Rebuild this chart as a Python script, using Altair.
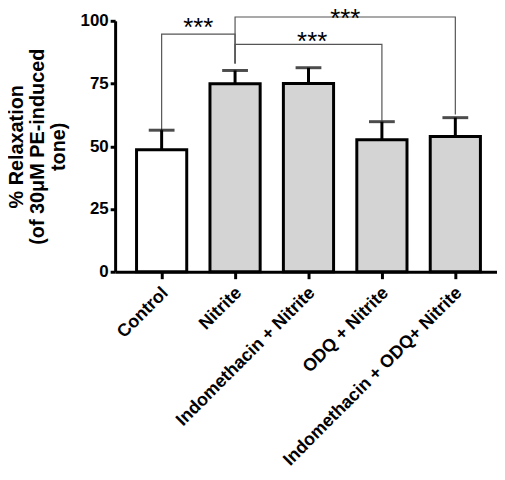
import json
import altair as alt
import pandas as pd

categories = ["Control", "Nitrite", "Indomethacin + Nitrite", "ODQ + Nitrite", "Indomethacin + ODQ+ Nitrite"]
means = [48.6, 74.9, 75.0, 52.6, 53.9]
sems = [7.8, 5.3, 6.3, 7.2, 7.5]
fills = ["#ffffff", "#d4d4d4", "#d4d4d4", "#d4d4d4", "#d4d4d4"]
y_ticks = [0, 25, 50, 75, 100]

# significance brackets (polyline points, x = category index)
bracket_id = [1, 1, 1, 1, 2, 2, 2, 2, 3, 3, 3, 3]
bracket_x = [0, 0, 1, 1, 1, 1, 3, 3, 1, 1, 4, 4]
bracket_y = [56.4, 94.7, 94.7, 83.0, 83.0, 90.6, 90.6, 60.3, 83.0, 101.5, 101.5, 62.7]
bracket_order = [0, 1, 2, 3, 0, 1, 2, 3, 0, 1, 2, 3]

star_x = [0.5, 2.05, 2.5]
star_y = [93.9, 88.5, 97.6]
star_text = ["***", "***", "***"]

FONT = "Liberation Sans"

bars = pd.DataFrame({
    "idx": list(range(len(categories))),
    "category": categories,
    "mean": means,
    "upper": [m + s for m, s in zip(means, sems)],
    "fill": fills,
})
brackets = pd.DataFrame({"bid": bracket_id, "bx": bracket_x, "by": bracket_y, "bo": bracket_order})
stars = pd.DataFrame({"sx": star_x, "sy": star_y, "t": star_text})

x_scale = alt.Scale(domain=[-0.566, 4.5], nice=False, zero=False)
y_scale = alt.Scale(domain=[0, 100], nice=False)

x_axis = alt.Axis(
    values=list(range(len(categories))),
    labelExpr=f"{json.dumps(categories)}[datum.value]",
    labelAngle=-45, labelFontSize=18, labelFontWeight="bold", labelFont=FONT,
    labelColor="black", labelPadding=5, labelOffset=-3, labelOverlap=False, labelLimit=0,
    tickSize=7, tickWidth=3, tickColor="black",
    domainWidth=3, domainColor="black", grid=False, title=None,
)
y_axis = alt.Axis(
    values=y_ticks,
    labelFontSize=17, labelFontWeight="bold", labelFont=FONT, labelColor="black", labelPadding=2,
    tickSize=5, tickWidth=3, tickColor="black",
    domainWidth=3, domainColor="black", grid=False,
    title=["% Relaxation", "(of 30\u03bcM PE-induced", "tone)"],
    titleFontSize=20, titleFontWeight="bold", titleFont=FONT, titleColor="black",
    titleLineHeight=21, titlePadding=12,
)

bar_layer = alt.Chart(bars).mark_bar(size=50.6, stroke="black", strokeWidth=3).encode(
    x=alt.X("idx:Q", scale=x_scale, axis=x_axis),
    y=alt.Y("mean:Q", scale=y_scale, axis=y_axis),
    fill=alt.Fill("fill:N", scale=None),
)
err_layer = alt.Chart(bars).mark_rule(color="black", strokeWidth=3).encode(
    x="idx:Q", y="mean:Q", y2="upper:Q",
)
cap_layer = alt.Chart(bars).mark_tick(color="black", orient="horizontal", size=26, thickness=3).encode(
    x="idx:Q", y="upper:Q",
)
bracket_layer = alt.Chart(brackets).mark_line(color="#555555", strokeWidth=1.2).encode(
    x="bx:Q", y="by:Q", detail="bid:N", order="bo:Q",
)
star_layer = alt.Chart(stars).mark_text(fontSize=26, font=FONT, baseline="alphabetic", color="black").encode(
    x="sx:Q", y="sy:Q", text="t:N",
)

chart = alt.layer(bracket_layer, err_layer, cap_layer, bar_layer, star_layer).properties(
    width=385, height=253,
    autosize=alt.AutoSizeParams(type="none"),
    padding={"left": 108, "top": 11, "right": 0, "bottom": 200},
).configure_view(stroke=None)

chart.save("out.html", embed_options={"renderer": "svg", "actions": False})
